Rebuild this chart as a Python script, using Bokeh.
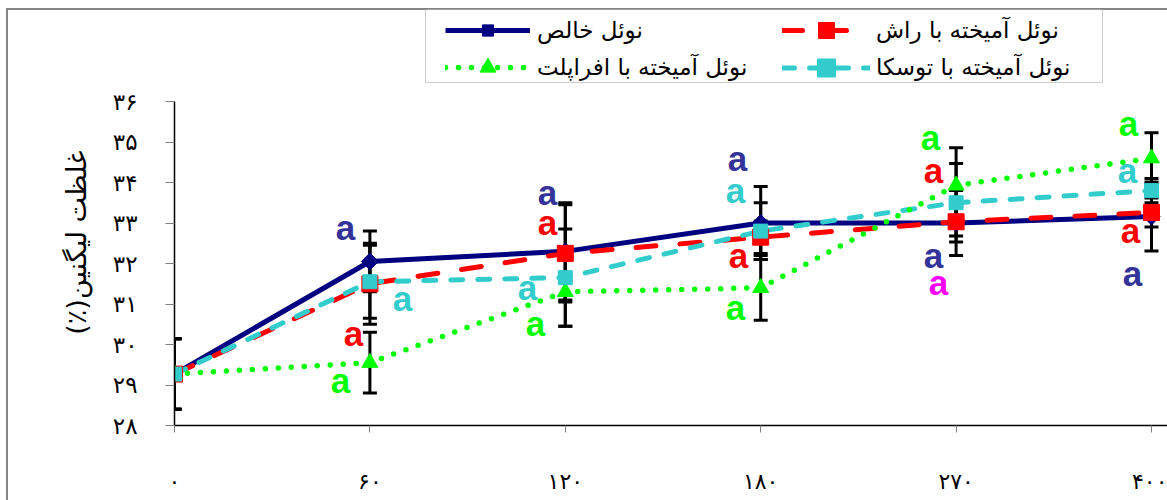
import math
from bokeh.plotting import figure
from bokeh.models import (ColumnDataSource, Range1d, FixedTicker, Whisker, TeeHead,
                          Legend, LegendItem, BoxAnnotation, LinearAxis)
from bokeh.core.properties import value
from bokeh.embed import file_html
from bokeh.resources import INLINE

# ---------------- data ----------------
x_pos = [0, 1, 2, 3, 4, 5]
x_labels = ["۰", "۶۰", "۱۲۰", "۱۸۰", "۲۷۰", "۴۰۰"]

y_ticks = [28, 29, 30, 31, 32, 33, 34, 35, 36]
y_labels = ["۲۸", "۲۹", "۳۰", "۳۱", "۳۲", "۳۳", "۳۴", "۳۵", "۳۶"]

name_pure = "نوئل خالص"
name_beech = "نوئل آمیخته با راش"
name_maple = "نوئل آمیخته با افراپلت"
name_alder = "نوئل آمیخته با توسکا"
y_title_text = "غلظت لیگنین(٪)"

pure = [29.27, 32.05, 32.30, 33.00, 33.00, 33.16]
beech = [29.27, 31.50, 32.25, 32.65, 33.03, 33.26]
maple = [29.27, 29.55, 31.30, 31.40, 33.93, 34.60]
alder = [29.27, 31.55, 31.65, 32.80, 33.50, 33.80]

pure_err = [0.87, 0.75, 1.20, 0.90, 0.80, 0.85]
beech_err = [0.87, 1.00, 1.20, 0.40, 0.35, 0.36]
maple_err = [0.87, 0.75, 0.85, 0.80, 0.93, 0.63]
alder_err = [0.87, 0.90, 1.20, 0.70, 0.97, 0.30]

# significance letters ("a") : x (category index), y (value), colour key
letter_x = [0.875, 1.167, 0.916, 0.850,
            1.909, 1.909, 1.807, 1.847,
            2.881, 2.871, 2.886, 2.871,
            3.869, 3.884, 3.884, 3.910,
            4.882, 4.877, 4.893, 4.903]
letter_y = [32.89, 31.14, 30.27, 29.11,
            33.75, 33.01, 31.41, 30.52,
            34.59, 33.80, 32.20, 30.91,
            35.11, 34.30, 32.20, 31.53,
            35.46, 34.30, 32.81, 31.75]
letter_key = ["navy", "cyan", "red", "green",
              "navy", "red", "cyan", "green",
              "navy", "cyan", "red", "green",
              "green", "red", "navy", "magenta",
              "green", "cyan", "red", "navy"]
letter_text = ["a"] * len(letter_x)

# ---------------- styles ----------------
C_NAVY = "#000080"
C_RED = "#FF0000"
C_GREEN = "#00FF00"
C_CYAN = "#33CCCC"
letter_palette = {"navy": "#333399", "cyan": "#33CCCC", "red": "#FF0000",
                  "green": "#00FF00", "magenta": "#FF00FF"}
AR_FONT = "DejaVu Sans"

PX_PER_UNIT = 40.5
X_STEP = 195.4

# right-to-left title; leading em spaces push the visible text down the axis
y_title = "\u200f" + "\u2003\u2003\u2009" + y_title_text + "\u200f"

p = figure(width=1167, height=500,
           x_range=Range1d(0, 993 / X_STEP),
           y_range=Range1d(28, 36 + 101 / PX_PER_UNIT),
           output_backend="svg", toolbar_location=None,
           min_border_left=174, min_border_right=0,
           min_border_top=0, min_border_bottom=75,
           background_fill_alpha=0, border_fill_alpha=0)
p.outline_line_color = None
p.grid.visible = False
p.styles = {"background": "linear-gradient(#868686, #868686) 7px 8px / 100% 2px no-repeat, "
                          "linear-gradient(#868686, #868686) 6px 8px / 2px 100% no-repeat, #ffffff"}

# x axis
xa = p.xaxis[0]
xa.ticker = FixedTicker(ticks=x_pos)
xa.major_label_overrides = {k: v for k, v in zip(x_pos, x_labels)}
xa.minor_tick_line_color = None
xa.major_tick_in = 0
xa.major_tick_out = 7
xa.major_tick_line_color = "#808080"
xa.axis_line_color = "black"
xa.axis_line_width = 1.5
xa.major_label_standoff = 36
xa.major_label_text_font = AR_FONT
xa.major_label_text_font_size = "22px"
xa.major_label_text_color = "black"

# y axis
ya = p.yaxis[0]
ya.ticker = FixedTicker(ticks=y_ticks)
ya.major_label_overrides = {k: v for k, v in zip(y_ticks, y_labels)}
ya.bounds = (28, 36)
ya.minor_tick_line_color = None
ya.major_tick_in = 0
ya.major_tick_out = 9
ya.major_tick_line_color = "#808080"
ya.axis_line_color = "black"
ya.axis_line_width = 1.5
ya.major_label_standoff = 28
ya.major_label_text_font = AR_FONT
ya.major_label_text_font_size = "23px"
ya.major_label_text_color = "black"

# y title carried by an extra (line-less, tick-less) left axis
ta = LinearAxis(ticker=FixedTicker(ticks=[]),
                axis_line_color=None, major_tick_line_color=None, minor_tick_line_color=None,
                major_tick_out=0, major_tick_in=0, major_label_standoff=0,
                axis_label=y_title, axis_label_text_font=AR_FONT,
                axis_label_text_font_size="27px", axis_label_text_font_style="normal",
                axis_label_text_color="black", axis_label_standoff=18)
p.add_layout(ta, "left")

# error bars
for vals, errs in [(pure, pure_err), (beech, beech_err), (maple, maple_err), (alder, alder_err)]:
    src = ColumnDataSource(dict(x=x_pos,
                                upper=[v + e for v, e in zip(vals, errs)],
                                lower=[v - e for v, e in zip(vals, errs)]))
    w = Whisker(source=src, base="x", upper="upper", lower="lower", dimension="height",
                line_color="black", line_width=3,
                upper_head=TeeHead(size=14, line_width=3, line_color="black"),
                lower_head=TeeHead(size=14, line_width=3, line_color="black"))
    p.add_layout(w)

# lines
l_pure = p.line(x_pos, pure, line_color=C_NAVY, line_width=5, line_join="round")
l_beech = p.line(x_pos, beech, line_color=C_RED, line_width=5, line_dash="20 24",
                 line_cap="round", line_join="round")
l_alder = p.line(x_pos, alder, line_color=C_CYAN, line_width=5, line_dash="12 15",
                 line_cap="round", line_join="round")
l_maple = p.line(x_pos, maple, line_color=C_GREEN, line_width=5.5, line_dash="0 13",
                 line_cap="round", line_join="round")

# markers
m_pure = p.scatter(x_pos, pure, marker="square", angle=math.pi / 4, size=12,
                   fill_color=C_NAVY, line_color=C_NAVY)
m_beech = p.scatter(x_pos, beech, marker="square", size=16, fill_color=C_RED, line_color=C_RED)
m_maple = p.scatter(x_pos, maple, marker="triangle", size=16, fill_color=C_GREEN, line_color=C_GREEN)
m_alder = p.scatter(x_pos, alder, marker="square", size=14, fill_color=C_CYAN, line_color=C_CYAN)

# letters
lsrc = ColumnDataSource(dict(x=letter_x, y=letter_y, t=letter_text,
                             c=[letter_palette[k] for k in letter_key]))
p.text(x="x", y="y", text="t", text_color="c", source=lsrc,
       text_font=value("Liberation Sans"), text_font_style="bold",
       text_font_size="35px", text_align="center", text_baseline="middle")

# legend frame
p.add_layout(BoxAnnotation(left=251, right=928, top=416, bottom=343,
                           left_units="screen", right_units="screen",
                           top_units="screen", bottom_units="screen",
                           fill_color="white", fill_alpha=1.0,
                           line_color="#555555", line_width=1))


def add_legend(label, renderers, vx, row_center, gw, gh, standoff):
    lg = Legend(items=[LegendItem(label=value(label), renderers=renderers)],
                location=(vx, row_center - gh / 2), orientation="vertical",
                glyph_width=gw, glyph_height=gh, label_height=gh,
                label_standoff=standoff, padding=0, margin=0, spacing=0,
                border_line_alpha=0, background_fill_alpha=0,
                label_text_font=AR_FONT, label_text_font_size="23px",
                label_text_color="black")
    p.add_layout(lg)


add_legend(name_pure, [l_pure, m_pure], 271, 395, 85, 28, 7)
add_legend(name_beech, [l_beech, m_beech], 608, 395, 88, 40, 6)
add_legend(name_maple, [l_maple, m_maple], 271, 358, 85, 40, 7)
add_legend(name_alder, [l_alder, m_alder], 608, 358, 88, 45, 6)

open("out.html", "w").write(file_html(p, INLINE))
